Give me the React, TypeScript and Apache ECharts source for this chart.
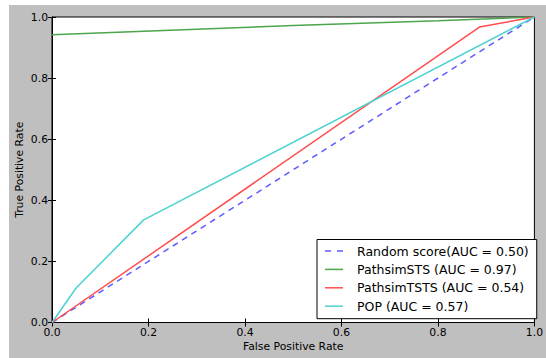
import React, { useEffect, useRef } from "react";
import * as echarts from "echarts";

const xTicks = [0, 0.2, 0.4, 0.6, 0.8, 1.0];
const yTicks = [0, 0.2, 0.4, 0.6, 0.8, 1.0];

const randomFpr = [0, 1];
const randomTpr = [0, 1];
const stsFpr = [0, 0.5, 0.8, 1];
const stsTpr = [0.942, 0.972, 0.988, 1];
const tstsFpr = [0, 0.886, 1];
const tstsTpr = [0, 0.967, 1];
const popFpr = [0, 0.05, 0.19, 1];
const popTpr = [0, 0.113, 0.336, 1];

const seriesNames = [
  "Random score(AUC = 0.50)",
  "PathsimSTS (AUC = 0.97)",
  "PathsimTSTS (AUC = 0.54)",
  "POP (AUC = 0.57)",
];
const seriesColors = ["#5c5cff", "#4ca64c", "#ff4d4d", "#4dd2d2"];

const zip = (xs: number[], ys: number[]) => xs.map((x, i) => [x, ys[i]]);

const solidIcon = "path://M0,0H18V1.5H0Z";
const dashedIcon = "path://M0,0H6V1.5H0Z M12,0H18V1.5H12Z";

export default function App() {
  const ref = useRef<HTMLDivElement>(null);
  useEffect(() => {
    if (!ref.current) return;
    const chart = echarts.init(ref.current, null, { renderer: "svg" });
    const font = "DejaVu Sans";
    const baseX = {
      type: "value" as const,
      min: 0,
      max: 1,
      interval: 0.2,
      splitLine: { show: false },
      axisLine: { show: true, lineStyle: { color: "#000", width: 1 } },
      axisTick: { show: true, inside: true, length: 4, lineStyle: { color: "#000" } },
    };
    const line = (name: string, data: number[][], color: string, dashed = false) => ({
      name,
      type: "line" as const,
      data,
      symbol: "none",
      lineStyle: { color, width: 1.5, type: dashed ? [6, 5] : "solid" },
      itemStyle: { color },
      z: 3,
    });
    chart.setOption({
      animation: false,
      backgroundColor: "transparent",
      textStyle: { fontFamily: font },
      grid: {
        left: 52,
        top: 17,
        right: 4,
        bottom: 35.5,
        show: true,
        backgroundColor: "#fff",
        borderColor: "#000",
        borderWidth: 1,
      },
      xAxis: [
        {
          ...baseX,
          position: "bottom",
          name: "False Positive Rate",
          nameLocation: "middle",
          nameGap: 18,
          nameMoveOverlap: false,
          nameTextStyle: { fontSize: 10.8, color: "#000", fontFamily: font },
          axisLabel: {
            fontSize: 10.8,
            color: "#000",
            fontFamily: font,
            margin: 4,
            formatter: (v: number) => (xTicks.includes(+v.toFixed(1)) ? v.toFixed(1) : ""),
          },
        },
        { ...baseX, position: "top", axisLabel: { show: false } },
      ],
      yAxis: [
        {
          ...baseX,
          position: "left",
          name: "True Positive Rate",
          nameLocation: "middle",
          nameGap: 27,
          nameMoveOverlap: false,
          nameTextStyle: { fontSize: 10.8, color: "#000", fontFamily: font },
          axisLabel: {
            fontSize: 10.8,
            color: "#000",
            fontFamily: font,
            margin: 4,
            formatter: (v: number) => (yTicks.includes(+v.toFixed(1)) ? v.toFixed(1) : ""),
          },
        },
        { ...baseX, position: "right", axisLabel: { show: false } },
      ],
      legend: {
        orient: "vertical",
        left: 317,
        top: 239.5,
        width: 220,
        backgroundColor: "#fff",
        borderColor: "#000",
        borderWidth: 1,
        borderRadius: 0,
        padding: [4, 8, 5, 8],
        itemWidth: 18,
        itemHeight: 1.5,
        itemGap: 3.4,
        textStyle: {
          fontSize: 12.5,
          lineHeight: 15,
          color: "#000",
          fontFamily: font,
          padding: [0, 0, 0, 9],
        },
        data: seriesNames.map((name, i) => ({
          name,
          icon: i === 0 ? dashedIcon : solidIcon,
          itemStyle: { color: seriesColors[i] },
        })),
      },
      series: [
        line(seriesNames[0], zip(randomFpr, randomTpr), seriesColors[0], true),
        line(seriesNames[1], zip(stsFpr, stsTpr), seriesColors[1]),
        line(seriesNames[2], zip(tstsFpr, tstsTpr), seriesColors[2]),
        line(seriesNames[3], zip(popFpr, popTpr), seriesColors[3]),
      ],
    });
    return () => chart.dispose();
  }, []);
  return (
    <div style={{ position: "fixed", left: 0, top: 0, width: 546, height: 358, background: "#fff" }}>
      <div style={{ position: "absolute", left: 9, top: 5, right: 0, bottom: 0, background: "#bfbfbf" }} />
      <div ref={ref} style={{ position: "absolute", left: 0, top: 0, width: 546, height: 358 }} />
    </div>
  );
}
